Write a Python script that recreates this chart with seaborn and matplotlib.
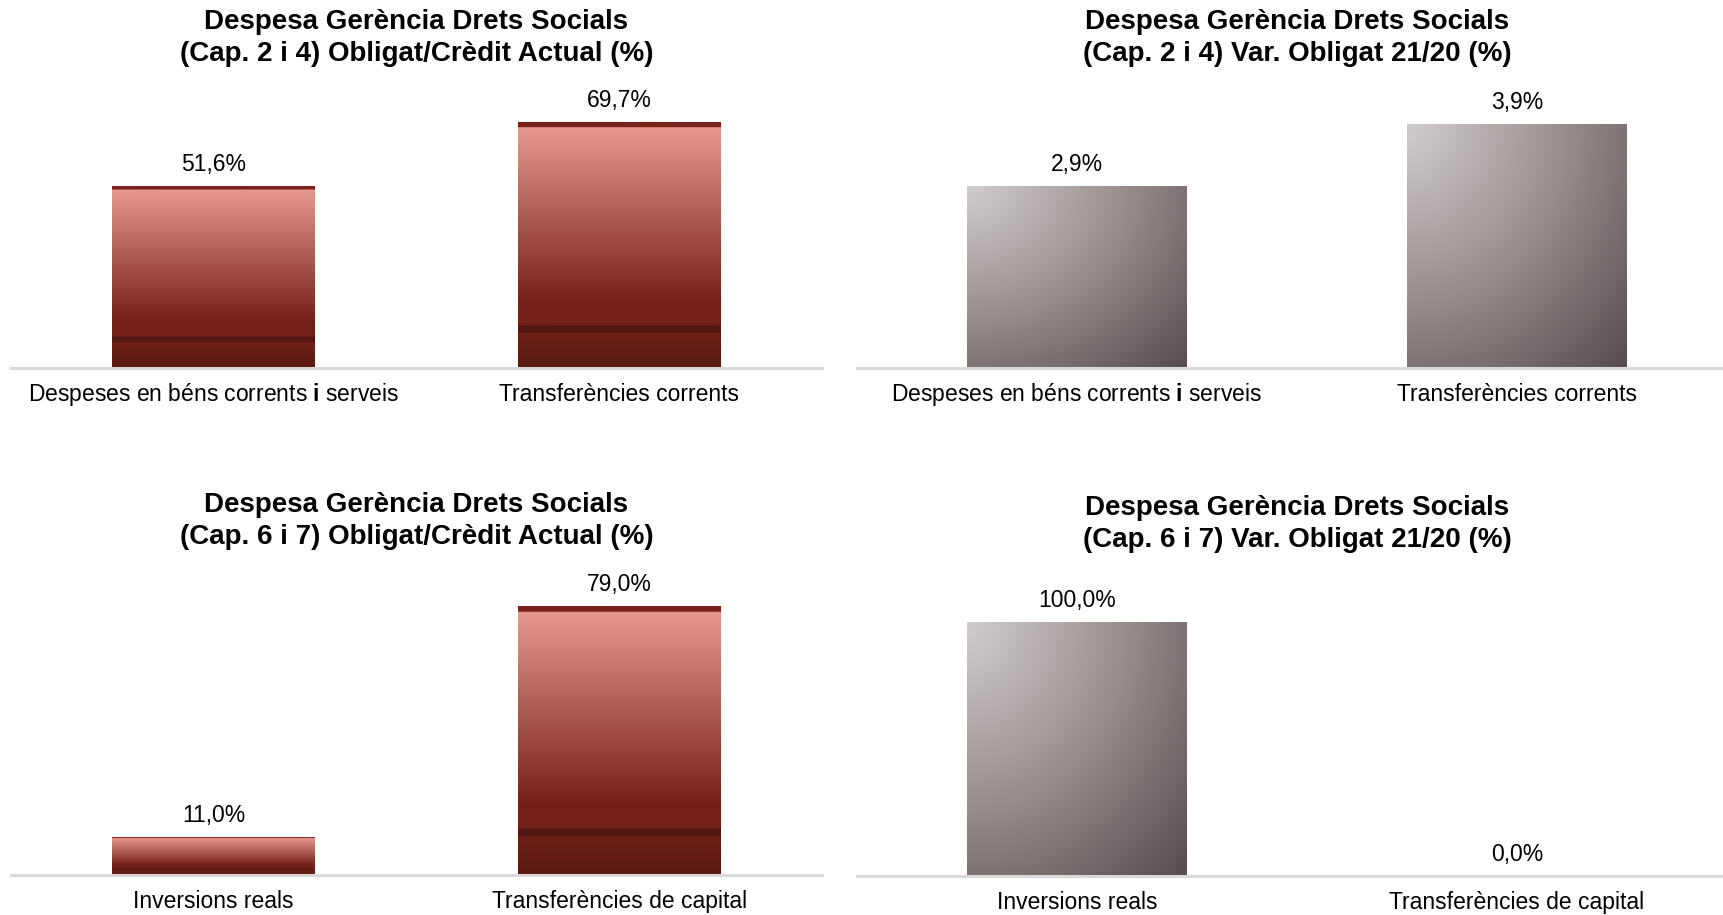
import numpy as np
import matplotlib
matplotlib.use('Agg')
import matplotlib.pyplot as plt
import seaborn as sns
from matplotlib.colors import LinearSegmentedColormap

# data
cats_cap24 = ['Despeses en béns corrents $\\mathbf{i}$ serveis', 'Transferències corrents']
cats_cap67 = ['Inversions reals', 'Transferències de capital']
oblig_credit_24 = [51.6, 69.7]
var_oblig_24 = [2.9, 3.9]
oblig_credit_67 = [11.0, 79.0]
var_oblig_67 = [100.0, 0.0]

titles = [
    'Despesa Gerència Drets Socials\n(Cap. 2 i 4) Obligat/Crèdit Actual (%)',
    'Despesa Gerència Drets Socials\n(Cap. 2 i 4) Var. Obligat 21/20 (%)',
    'Despesa Gerència Drets Socials\n(Cap. 6 i 7) Obligat/Crèdit Actual (%)',
    'Despesa Gerència Drets Socials\n(Cap. 6 i 7) Var. Obligat 21/20 (%)',
]

sns.set_style('white')
plt.rcParams['font.family'] = ['Liberation Sans', 'DejaVu Sans']
plt.rcParams['mathtext.fontset'] = 'custom'
plt.rcParams['mathtext.rm'] = 'Liberation Sans'
plt.rcParams['mathtext.bf'] = 'Liberation Sans:bold'

W, H = 1724, 915
fig = plt.figure(figsize=(W / 100, H / 100), dpi=100)

red_cmap = LinearSegmentedColormap.from_list('red_bar', [
    (0.0, '#7A2219'), (0.02, '#7A2219'), (0.021, '#E8998D'),
    (0.74, '#73201A'), (0.83, '#73201A'), (0.831, '#521812'),
    (0.86, '#521812'), (0.861, '#6E2018'), (1.0, '#581A12')])
grey_cmap = LinearSegmentedColormap.from_list('grey_bar', ['#D2CDCD', '#9A8F8F', '#574C4D'])


def px_axes(left, right, base, top):
    return fig.add_axes([left / W, (H - base) / H, (right - left) / W, (base - top) / H])


def fill_gradient(ax, kind):
    for p in ax.patches:
        h = p.get_height()
        if h <= 0:
            continue
        x0, w = p.get_x(), p.get_width()
        if kind == 'red':
            t = np.linspace(0, 1, 400)
            img = np.repeat(red_cmap(t)[:, None, :], 2, axis=1)
        else:
            yy, xx = np.mgrid[0:1:200j, 0:1:200j]
            t = np.clip(np.sqrt(xx ** 2 + yy ** 2) / np.sqrt(2), 0, 1)
            img = grey_cmap(t)
        im = ax.imshow(img, extent=(x0, x0 + w, 0, h), origin='upper',
                       aspect='auto', interpolation='bilinear', zorder=3)
        im.set_clip_path(p)
    ax.set_aspect('auto')


def panel(ax, cats, vals, kind, ymax, title, title_y):
    sns.barplot(x=cats, y=vals, ax=ax, width=0.5,
                color='#8B2A20' if kind == 'red' else '#8E8484', saturation=1)
    fill_gradient(ax, kind)
    ax.set_xlim(-0.5, 1.5)
    ax.set_ylim(0, ymax)
    for i, v in enumerate(vals):
        ax.annotate(f'{v:.1f}%'.replace('.', ','), (i, v), xytext=(0, 15.5),
                    textcoords='offset points', ha='center', va='center',
                    fontsize=16.5, color='#000000')
    for s in ['top', 'left', 'right']:
        ax.spines[s].set_visible(False)
    ax.spines['bottom'].set_color('#D9D9D9')
    ax.spines['bottom'].set_linewidth(2.2)
    ax.spines['bottom'].set_zorder(5)
    ax.set_yticks([])
    ax.tick_params(axis='x', length=0, pad=23.5, labelsize=16.5, labelcolor='#000000')
    for lbl in ax.get_xticklabels():
        lbl.set_verticalalignment('baseline')
    ax.set_xlabel('')
    ax.set_ylabel('')
    ax.set_facecolor('none')
    bb = ax.get_position()
    fig.text(bb.x0 + bb.width / 2, 1 - title_y / H, title, ha='center', va='center',
             fontsize=20, fontweight='bold', linespacing=1.28, color='#000000')


ax1 = px_axes(11, 822, 368, 80)
panel(ax1, cats_cap24, oblig_credit_24, 'red', 288 / 3.53, titles[0], 38)
ax2 = px_axes(857, 1737, 368, 80)
panel(ax2, cats_cap24, var_oblig_24, 'grey', 288 / 62.6, titles[1], 38)
ax3 = px_axes(11, 822, 875, 580)
panel(ax3, cats_cap67, oblig_credit_67, 'red', 295 / 3.41, titles[2], 521)
ax4 = px_axes(857, 1737, 876, 580)
panel(ax4, cats_cap67, var_oblig_67, 'grey', 296 / 2.54, titles[3], 524)

fig.savefig('out.png', dpi=100, facecolor='white')
